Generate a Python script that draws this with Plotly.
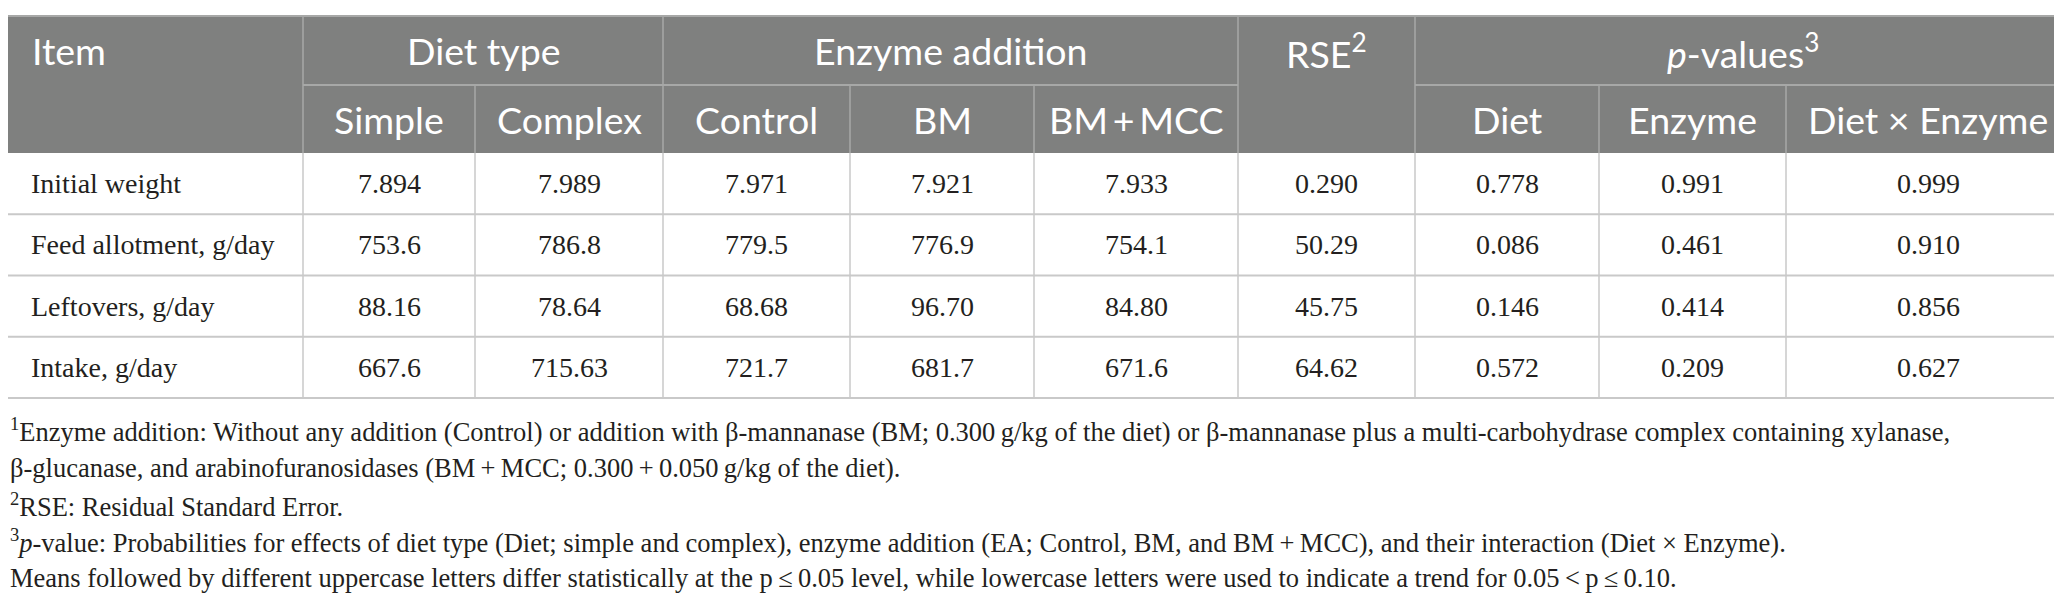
import plotly.graph_objects as go

# table contents
ITEMS = ['Initial weight', 'Feed allotment, g/day', 'Leftovers, g/day', 'Intake, g/day']
SIMPLE = ['7.894', '753.6', '88.16', '667.6']
COMPLEX = ['7.989', '786.8', '78.64', '715.63']
CONTROL = ['7.971', '779.5', '68.68', '721.7']
BM = ['7.921', '776.9', '96.70', '681.7']
BM_MCC = ['7.933', '754.1', '84.80', '671.6']
RSE = ['0.290', '50.29', '45.75', '64.62']
P_DIET = ['0.778', '0.086', '0.146', '0.572']
P_ENZYME = ['0.991', '0.461', '0.414', '0.209']
P_INTER = ['0.999', '0.910', '0.856', '0.627']

GROUPS = ['Diet type', 'Enzyme addition', 'RSE<sup>2</sup>', '<i>p</i>-values<sup>3</sup>']
SUBHEADS = ['Simple', 'Complex', 'Control', 'BM', 'BM\u2009+\u2009MCC', '', 'Diet', 'Enzyme', 'Diet × Enzyme']

FOOTNOTES = [
    '<sup>1</sup>Enzyme addition: Without any addition (Control) or addition with β-mannanase (BM; 0.300\u2009g/kg of the diet) '
    'or β-mannanase plus a multi-carbohydrase complex containing xylanase,',
    'β-glucanase, and arabinofuranosidases (BM\u2009+\u2009MCC; 0.300\u2009+\u20090.050\u2009g/kg of the diet).',
    '<sup>2</sup>RSE: Residual Standard Error.',
    '<sup>3</sup><i>p</i>-value: Probabilities for effects of diet type (Diet; simple and complex), '
    'enzyme addition (EA; Control, BM, and BM\u2009+\u2009MCC), and their interaction (Diet × Enzyme).',
    'Means followed by different uppercase letters differ statistically at the p\u2009≤\u20090.05 level, '
    'while lowercase letters were used to indicate a trend for 0.05\u2009<\u2009p\u2009≤\u20090.10.',
]

W, H = 2062, 599
COL_X = [0, 295, 467, 655, 842, 1026, 1230, 1407, 1591, 1778, 2062]
TOP, MID, HEAD_BOT = 8, 77, 145
ROW_H = 61.25
FOOT_Y = [422, 460, 497, 533, 570]

HEAD_BG = '#7f807f'
HEAD_LINE = '#a7a8a7'
BODY_LINE = '#c9c9c9'
SANS = 'Lato, Open Sans, sans-serif'
SERIF = 'Liberation Serif, Times New Roman, serif'
INK = '#231f20'

fig = go.Figure()
shapes = []
ann = []

# header background
shapes.append(dict(type='rect', x0=0, x1=W, y0=TOP, y1=HEAD_BOT, fillcolor=HEAD_BG,
                   line=dict(width=0), layer='below'))
shapes.append(dict(type='line', x0=0, x1=W, y0=TOP, y1=TOP, line=dict(color=HEAD_LINE, width=2)))

# header vertical lines
for i in [1, 3, 6, 7]:
    shapes.append(dict(type='line', x0=COL_X[i], x1=COL_X[i], y0=TOP, y1=HEAD_BOT,
                       line=dict(color=HEAD_LINE, width=1.5)))
for i in [2, 4, 5, 8, 9]:
    shapes.append(dict(type='line', x0=COL_X[i], x1=COL_X[i], y0=MID, y1=HEAD_BOT,
                       line=dict(color=HEAD_LINE, width=1.5)))
# header horizontal split
for a, b in [(1, 6), (7, 10)]:
    shapes.append(dict(type='line', x0=COL_X[a], x1=COL_X[b], y0=MID, y1=MID,
                       line=dict(color=HEAD_LINE, width=2)))

# header texts
ann.append(dict(x=22, y=(TOP + MID) / 2, text='Item', xanchor='left'))
group_spans = [(1, 3), (3, 6), (6, 7), (7, 10)]
for label, (a, b) in zip(GROUPS, group_spans):
    ann.append(dict(x=(COL_X[a] + COL_X[b]) / 2, y=(TOP + MID) / 2, text=label, xanchor='center'))
for j, label in enumerate(SUBHEADS):
    if label:
        ann.append(dict(x=(COL_X[j + 1] + COL_X[j + 2]) / 2, y=(MID + HEAD_BOT) / 2,
                        text=label, xanchor='center'))
for a in ann:
    a.update(yanchor='middle', showarrow=False, font=dict(family=SANS, size=37.5, color='white'))

# body grid
n = len(ITEMS)
body_bot = HEAD_BOT + n * ROW_H
for r in range(1, n + 1):
    y = HEAD_BOT + r * ROW_H
    shapes.append(dict(type='line', x0=0, x1=W, y0=y, y1=y, line=dict(color=BODY_LINE, width=2)))
for i in range(1, len(COL_X) - 1):
    shapes.append(dict(type='line', x0=COL_X[i], x1=COL_X[i], y0=HEAD_BOT, y1=body_bot,
                       line=dict(color=BODY_LINE, width=1.5)))

columns = [SIMPLE, COMPLEX, CONTROL, BM, BM_MCC, RSE, P_DIET, P_ENZYME, P_INTER]
body_font = dict(family=SERIF, size=28, color=INK)
for r, item in enumerate(ITEMS):
    yc = HEAD_BOT + (r + 0.5) * ROW_H
    ann.append(dict(x=21, y=yc, text=item, xanchor='left', yanchor='middle',
                    showarrow=False, font=body_font))
    for j, col in enumerate(columns):
        ann.append(dict(x=(COL_X[j + 1] + COL_X[j + 2]) / 2, y=yc, text=col[r],
                        xanchor='center', yanchor='middle', showarrow=False, font=body_font))

# footnotes
for y, txt in zip(FOOT_Y, FOOTNOTES):
    ann.append(dict(x=0, y=y, text=txt, xanchor='left', yanchor='middle', showarrow=False,
                    font=dict(family=SERIF, size=26.5, color=INK)))

fig.update_layout(
    width=W, height=H,
    margin=dict(l=0, r=0, t=0, b=0),
    paper_bgcolor='white', plot_bgcolor='white',
    xaxis=dict(range=[0, W], visible=False, fixedrange=True),
    yaxis=dict(range=[H, 0], visible=False, fixedrange=True),
    shapes=shapes, annotations=ann, showlegend=False,
)

fig.write_html("out.html")
